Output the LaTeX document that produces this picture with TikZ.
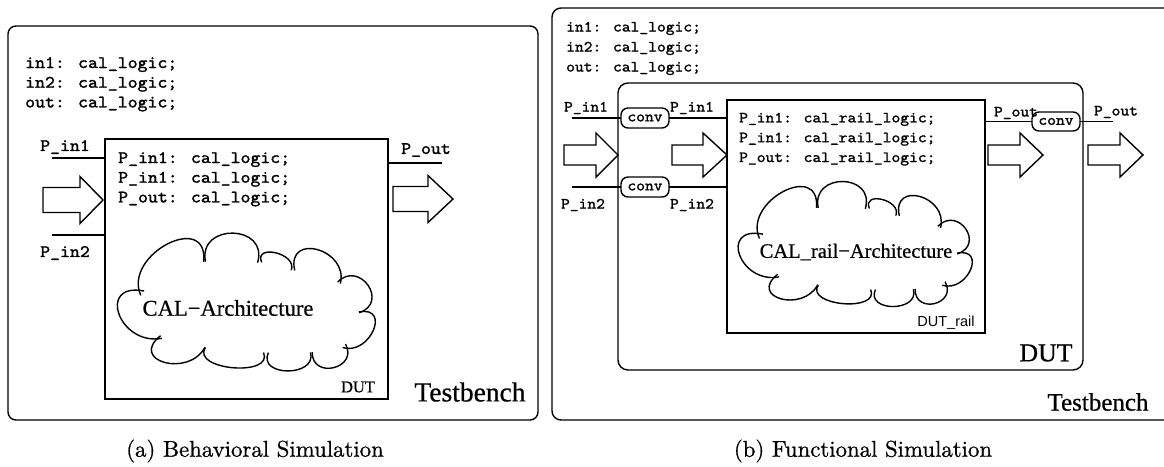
\documentclass[tikz,border=0pt]{standalone}
\usepackage{fontspec}
\newfontfamily\tmsfont{Liberation Serif}[FakeBold=0.6]
\newfontfamily\crfont{lmmono10-regular}[Extension=.otf, FakeBold=1.4, FakeStretch=1.08]
\newfontfamily\capfont{lmroman10-regular}[Extension=.otf, FakeBold=0.8]
\newfontfamily\hvfont{Liberation Sans}
\usetikzlibrary{calc}

% one lobe of a cloud: from #1 through the crest #2 to #3, ends overshooting a little
\newcommand\cloudbump[3]{%
  \draw[cloudline] #1 .. controls ($1.333*#2+0.483*#1-0.817*#3$)
    and ($1.333*#2-0.817*#1+0.483*#3$) .. #3;}
\newcommand\drawcloud[3]{%
  \begin{scope}[shift={(#1,#2)}, scale=#3]
    \cloudbump{(-81,34)}{(-116,11)}{(-97,-11)}
    \cloudbump{(-97,-11)}{(-71,-54)}{(-37,-42)}
    \cloudbump{(-37,-42)}{(-11,-64)}{(13,-41)}
    \cloudbump{(13,-41)}{(28,-46)}{(44,-34)}
    \cloudbump{(44,-34)}{(66,-49)}{(88,-22)}
    \cloudbump{(88,-22)}{(113,-16)}{(109,8)}
    \cloudbump{(109,8)}{(118,26)}{(94,43)}
    \cloudbump{(94,43)}{(81,61)}{(61,51)}
    \cloudbump{(61,51)}{(39,64)}{(19,51)}
    \cloudbump{(19,51)}{(-11,61)}{(-39,46)}
    \cloudbump{(-39,46)}{(-74,56)}{(-81,34)}
  \end{scope}}
% hollow block arrow: x start, x head, x tip, y centre, shaft half, head half
\newcommand\bigarrow[6]{%
  \draw[outline] (#1,#4-#5) -- (#2,#4-#5) -- (#2,#4-#6) -- (#3,#4)
    -- (#2,#4+#6) -- (#2,#4+#5) -- (#1,#4+#5) -- cycle;}

\tikzset{
  outline/.style={draw, line width=1.4pt},
  frame/.style={draw, line width=1.4pt, inner sep=0pt, outer sep=0pt, anchor=north west},
  cloudline/.style={line width=1.4pt, shorten <=-6pt, shorten >=-6pt},
  wire/.style={line width=1.4pt},
  codeA/.style={inner sep=0pt, anchor=base west, font=\crfont\fontsize{17.5}{19}\selectfont},
  codeB/.style={inner sep=0pt, anchor=base west, font=\crfont\fontsize{15.5}{17}\selectfont},
  portA/.style={inner sep=0pt, font=\crfont\fontsize{17.5}{19}\selectfont},
  portB/.style={inner sep=0pt, font=\crfont\fontsize{15.5}{17}\selectfont},
  convbox/.style={draw, line width=1.4pt, rounded corners=7pt, inner sep=0pt, outer sep=0pt,
    minimum width=48pt, minimum height=20pt, font=\crfont\fontsize{15.5}{17}\selectfont},
  caption/.style={inner sep=0pt, font=\capfont\fontsize{22.8}{26}\selectfont},
}

\begin{document}
\begin{tikzpicture}[x=1pt, y=-1pt]
\useasboundingbox (0,0) rectangle (1164,466);

% ================= (a) behavioral simulation =================
\node[frame, rounded corners=8pt, minimum width=530pt, minimum height=394pt] (tbA) at (8,26) {};
\node[codeA] (declA1) at (25,68)    {in1: cal\_logic;};
\node[codeA] (declA2) at (25,87.7)  {in2: cal\_logic;};
\node[codeA] (declA3) at (25,107.4) {out: cal\_logic;};

\node[frame, minimum width=283pt, minimum height=260pt] (dutA) at (105,139) {};
\node[codeA] (dutA1) at (118,163) {P\_in1: cal\_logic;};
\node[codeA] (dutA2) at (118,182.7) {P\_in1: cal\_logic;};
\node[codeA] (dutA3) at (118,202.4) {P\_out: cal\_logic;};
\node[inner sep=0pt, font=\tmsfont\fontsize{16.5}{19}\selectfont] (dutAlbl) at (358,387) {DUT};

\drawcloud{245}{302}{1.1}
\node[inner sep=0pt, font=\tmsfont\fontsize{22.6}{26}\selectfont] (archA) at (228,308) {CAL−Architecture};

% ports
\coordinate (inA1) at (52,158);
\coordinate (inA2) at (52,235);
\coordinate (outA) at (442,163);
\draw[wire] (inA1) -- (inA1 -| dutA.west);
\draw[wire] (inA2) -- (inA2 -| dutA.west);
\draw[wire] (outA -| dutA.east) -- (outA);
\node[portA] (pinA1) at (65,147) {P\_in1};
\node[portA] (pinA2) at (65,253) {P\_in2};
\node[portA] (poutA) at (426,150) {P\_out};
\bigarrow{43}{80}{103}{200}{12.5}{23.5}
\bigarrow{393}{428}{453}{199}{12.5}{23.5}

\node[inner sep=0pt, font=\tmsfont\fontsize{27.5}{30}\selectfont] (tbAlbl) at (470,392) {Testbench};
\node[caption] (capA) at (255,451) {(a) Behavioral Simulation};

% ================= (b) functional simulation =================
\draw[outline, rounded corners=9pt] (1164,8) -- (552,8) -- (552,420) -- (1164,420);
\node[codeB] (declB1) at (566,31.5) {in1: cal\_logic;};
\node[codeB] (declB2) at (566,51.5) {in2: cal\_logic;};
\node[codeB] (declB3) at (566,71.5) {out: cal\_logic;};

\node[frame, rounded corners=10pt, minimum width=465pt, minimum height=287pt] (dutB) at (618,83) {};
\node[inner sep=0pt, font=\tmsfont\fontsize{25.8}{28}\selectfont] (dutBlbl) at (1046,353) {DUT};

\node[frame, minimum width=258pt, minimum height=233pt] (rail) at (727,100) {};
\node[codeB] (railA1) at (739,122.4) {P\_in1: cal\_rail\_logic;};
\node[codeB] (railA2) at (739,142.2) {P\_in1: cal\_rail\_logic;};
\node[codeB] (railA3) at (739,162) {P\_out: cal\_rail\_logic;};
\node[inner sep=0pt, font=\hvfont\fontsize{14.5}{17}\selectfont] (raillbl) at (946,323) {DUT\_rail};

\drawcloud{854}{244}{1}
\node[inner sep=0pt, font=\tmsfont\fontsize{20.5}{24}\selectfont] (archB) at (856,252) {CAL\_rail−Architecture};

% converters and their wires
\node[portB] (pinB1o) at (586,108) {P\_in1};
\node[portB] (pinB1i) at (692,108) {P\_in1};
\node[portB] (pinB2o) at (583,205) {P\_in2};
\node[portB] (pinB2i) at (692,205) {P\_in2};
\node[portB] (poutBi) at (1016,113) {P\_out};
\node[portB] (poutBo) at (1116,112) {P\_out};
\node[convbox] (conv1) at (645,118) {conv};
\node[convbox] (conv2) at (645,187) {conv};
\node[convbox, minimum height=19pt] (conv3) at (1056,121.5) {conv};
\coordinate (inB1) at (572,118);
\coordinate (inB2) at (572,187);
\coordinate (outB) at (1113,121.5);
\draw[wire] (inB1) -- (conv1.west);
\draw[wire] (conv1.east) -- (conv1.east -| rail.west);
\draw[wire] (inB2) -- (conv2.west);
\draw[wire] (conv2.east) -- (conv2.east -| rail.west);
\draw[wire] (conv3.west -| rail.east) -- (conv3.west);
\draw[wire] (conv3.east) -- (outB);

\bigarrow{564}{596}{618}{155}{10}{22}
\bigarrow{672}{703}{727}{155}{10}{22}
\bigarrow{988}{1020}{1043}{155}{10}{22}
\bigarrow{1088}{1120}{1143}{155}{10}{22}

\node[inner sep=0pt, font=\tmsfont\fontsize{25}{28}\selectfont] (tbBlbl) at (1098,402) {Testbench};
\node[caption] (capB) at (863,451) {(b) Functional Simulation};
\end{tikzpicture}
\end{document}
